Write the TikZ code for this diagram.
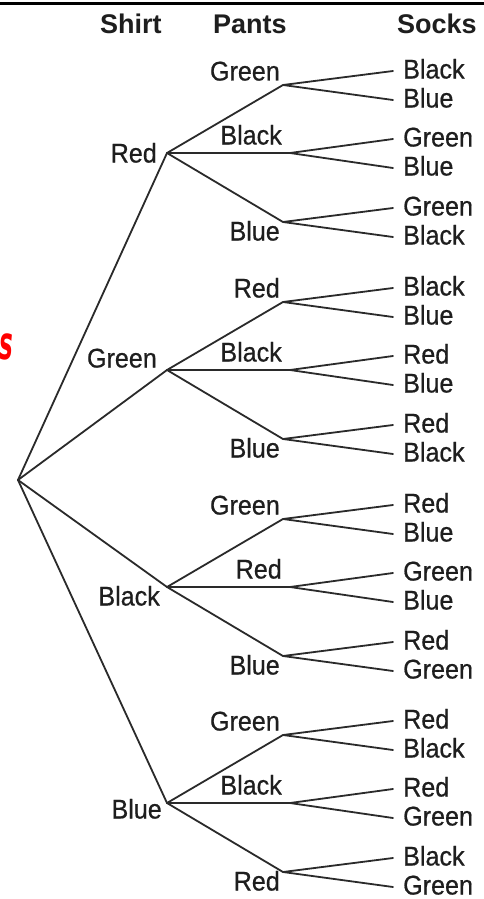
\documentclass[tikz,border=0pt]{standalone}
\usepackage{fontspec}
\setmainfont{Liberation Sans}
\newfontfamily\lblfont{Liberation Sans}[FakeStretch=0.93, FakeBold=0.6]
\newfontfamily\markfont{DejaVu Sans}
\definecolor{inkgray}{HTML}{1E1E1E}
\definecolor{linegray}{HTML}{2A2A2A}
\begin{document}
\begin{tikzpicture}[x=1pt,y=-1pt,
  branch/.style={draw=linegray, line width=1.8pt, line cap=round, line join=round},
  lbl/.style={font=\lblfont\fontsize{27}{30}\selectfont, text=inkgray, inner sep=0pt},
  head/.style={font=\fontsize{27}{30}\selectfont\bfseries, text=inkgray, inner sep=0pt}]
\useasboundingbox (0,0) rectangle (484,899);
\fill[white] (0,0) rectangle (484,899);

% rule along the top edge
\coordinate (ruleL) at (0,4);
\coordinate (ruleR) at (484,4);
\draw[line width=3pt, black] (ruleL) -- (ruleR);

% column headings
\node[head, anchor=base west] (hShirt) at (100,34) {Shirt};
\node[head, anchor=base west] (hPants) at (213,34) {Pants};
\node[head, anchor=base west] (hSocks) at (397,34) {Socks};

% red margin mark
\node[text=red, font=\markfont\fontsize{46}{46}\selectfont\bfseries\itshape, xscale=0.5, inner sep=0pt] (mark) at (6,347) {s};

% root of the tree
\coordinate (root) at (18,480);

% one group per shirt colour: junction y, label position, pants and socks
\foreach \g/\c/\shirt/\sx/\sy/\pa/\pb/\pc/\ka/\kb/\kc/\kd/\ke/\kf in {
  1/153/Red/157/162.5/Green/Black/Blue/Black/Blue/Green/Blue/Green/Black,
  2/370/Green/157/367.5/Red/Black/Blue/Black/Blue/Red/Blue/Red/Black,
  3/587/Black/160/605.5/Green/Red/Blue/Red/Blue/Green/Blue/Red/Green,
  4/803/Blue/162/818.5/Green/Black/Red/Red/Black/Red/Green/Black/Green}
{
  \coordinate (s\g) at (167,\c);
  \draw[branch] (root) -- (s\g);
  \node[lbl, anchor=base east] (sl\g) at (\sx,\sy) {\shirt};
  \foreach \j/\px/\py/\lx/\ly/\pl/\ku/\kl in {
    a/283/\c-68/280/\c-72.5/\pa/\ka/\kb,
    b/290/\c/282/\c-8.5/\pb/\kc/\kd,
    c/283/\c+69/280/\c+87.5/\pc/\ke/\kf}
  {
    \coordinate (p\g\j) at (\px,\py);
    \draw[branch] (s\g) -- (p\g\j);
    \node[lbl, anchor=base east] (pl\g\j) at (\lx,\ly) {\pl};
    \coordinate (k\g\j1) at (393,\py-14);
    \coordinate (k\g\j2) at (393,\py+15);
    \draw[branch] (k\g\j1) -- (p\g\j) -- (k\g\j2);
    \node[lbl, anchor=base west] (kl\g\j1) at (403,\py-14+7.5) {\ku};
    \node[lbl, anchor=base west] (kl\g\j2) at (403,\py+15+7.5) {\kl};
  }
}
\end{tikzpicture}
\end{document}
